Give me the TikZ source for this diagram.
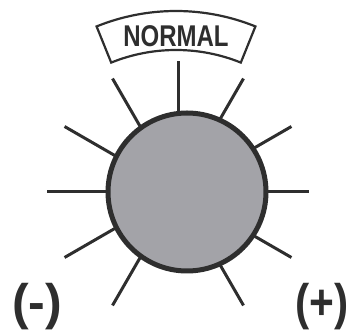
\documentclass[tikz,border=0pt]{standalone}
\usepackage{fontspec}
\setmainfont{Liberation Sans}
\usetikzlibrary{positioning}
\definecolor{ink}{HTML}{2E2E2E}
\definecolor{knob}{HTML}{A3A3A8}
\tikzset{
  ray/.style={draw=ink,line width=3pt},
  dial/.style={circle,draw=ink,line width=5pt,fill=knob,minimum size=158pt,inner sep=0pt},
  tag/.style={font=\bfseries\fontsize{30}{30}\selectfont,text=ink,inner sep=0pt},
  sign/.style={font=\bfseries\fontsize{50}{50}\selectfont,text=ink,inner sep=0pt}
}

\begin{document}
\begin{tikzpicture}[x=1pt,y=1pt]
  \useasboundingbox (0,0) rectangle (350,336);
  \coordinate (hub) at (178,144);
  % rays round the knob, none straight down
  \foreach \a in {0,30,...,240,300,330}
    \draw[ray] (hub) -- ++(\a:131);
  \node[dial] (knob) at (187,144) {};
  % arched NORMAL tag
  \coordinate (arc) at (176,113);
  \draw[ink,line width=2.2pt] ([shift={(68:173)}]arc) arc[start angle=68,end angle=112,radius=173]
    -- ([shift={(112:212)}]arc) arc[start angle=112,end angle=68,radius=212] -- cycle;
  \node[tag,xscale=0.8] (normal) at (176,300) {NORMAL};
  \node[sign] (minus) at (37,29) {(-)};
  \node[sign,xscale=0.85] (plus) at (322,29) {(+)};
\end{tikzpicture}
\end{document}
